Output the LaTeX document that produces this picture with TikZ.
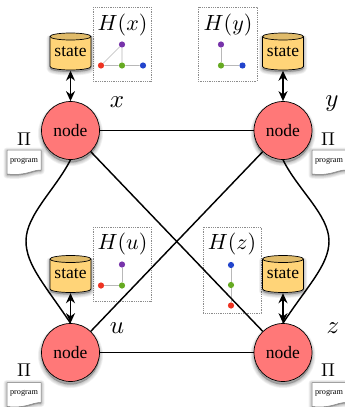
\documentclass[tikz,border=0pt]{standalone}
\usepackage{fontspec}
\setmainfont{Liberation Serif}
\usetikzlibrary{arrows.meta}
\definecolor{nodered}{HTML}{FF7878}
\definecolor{statey}{HTML}{FFD478}
\definecolor{dred}{HTML}{EE3322}
\definecolor{dgreen}{HTML}{66AA22}
\definecolor{dblue}{HTML}{2244CC}
\definecolor{dpurple}{HTML}{7733AA}
\tikzset{
  pnode/.style={circle,draw=black,line width=0.7pt,fill=nodered,minimum size=58pt,inner sep=0pt,font=\fontsize{17.5}{17.5}\selectfont},
  link/.style={line width=1.45pt,black},
  dbl/.style={line width=1.6pt,black,{Stealth[length=10pt,width=9pt]}-{Stealth[length=10pt,width=9pt]}},
  hbox/.style={draw=black!45,densely dotted,line width=0.8pt},
  glink/.style={line width=0.7pt,black!28},
  dot/.style={circle,inner sep=0pt,minimum size=6.2pt},
  mathlab/.style={inner sep=0pt,scale=2.2},
  varlab/.style={inner sep=0pt,scale=2.5},
  pilab/.style={inner sep=0pt,scale=1.85},
  statelab/.style={minimum width=41pt,minimum height=38pt,inner sep=0pt,font=\fontsize{17.5}{17.5}\selectfont},
  proglab/.style={inner sep=0pt,font=\fontsize{8.2}{8.2}\selectfont}
}
\newcommand{\softshadow}[1]{%
  \foreach \w in {7,5.5,4,2.5,1}{\path[fill=black,fill opacity=0.05,draw=black,draw opacity=0.05,line width=\w pt,line join=round] #1;}}
\newcommand{\statecyl}[3]{% name, centre x, top y
  \begin{scope}[shift={(#2,#3)}]
    \begin{scope}[yshift=-2pt]\softshadow{(-20.5,3.5) -- (-20.5,33.5) arc[start angle=180,end angle=0,x radius=20.5,y radius=3.5] -- (20.5,3.5) -- cycle}\end{scope}
    \path[fill=statey,draw=black,line width=0.7pt] (-20.5,3.5) -- (-20.5,33.5) arc[start angle=180,end angle=0,x radius=20.5,y radius=3.5] -- (20.5,3.5);
    \path[fill=statey!88!black,draw=black,line width=0.7pt] (0,3.5) ellipse[x radius=20.5,y radius=3.5];
    \node[statelab] (#1) at (0,18.5) {\raisebox{-1pt}{state}};
  \end{scope}}
\newcommand{\progdoc}[3]{% name, left x, top y
  \begin{scope}[shift={(#2,#3)}]
    \begin{scope}[yshift=-1pt]\softshadow{(0,0) -- (34,0) -- (34,20) .. controls (24,20) and (20,26) .. (0,24) -- cycle}\end{scope}
    \path[fill=white,draw=black!50,line width=0.5pt] (0,0) -- (34,0) -- (34,20) .. controls (24,20) and (20,26) .. (0,24) -- cycle;
    \node[proglab] (#1) at (17,11) {program};
  \end{scope}}
\begin{document}
\begin{tikzpicture}[x=1pt,y=-1pt]
\useasboundingbox (0,0) rectangle (345,407);
\clip (0,0) rectangle (345,407);
\fill[white] (0,0) rectangle (345,407);
\foreach \cx/\cy in {70.5/130.5,283/130.5,70.5/352.5,283/352.5}{
  \begin{scope}[shift={(\cx,\cy+3)}]\softshadow{(0,0) circle[radius=29]}\end{scope}}
\node[pnode] (nx) at (70.5,130.5) {node};
\node[pnode] (ny) at (283,130.5) {node};
\node[pnode] (nu) at (70.5,352.5) {node};
\node[pnode] (nz) at (283,352.5) {node};
% H boxes
\draw[hbox] (93,7) rectangle (151,81);
\draw[hbox] (198,7) rectangle (257,81);
\draw[hbox] (93,227) rectangle (151,301);
\draw[hbox] (203,227) rectangle (261,313);
\node[mathlab] (hx) at (122.5,25) {$H(x)$};
\node[mathlab] (hy) at (228,25) {$H(y)$};
\node[mathlab] (hu) at (122.5,243.5) {$H(u)$};
\node[mathlab] (hz) at (232,243.5) {$H(z)$};
% H(x)
\node[dot,fill=dpurple] (xp) at (122,44.5) {};
\node[dot,fill=dred] (xr) at (101,65.5) {};
\node[dot,fill=dgreen] (xg) at (122,65.5) {};
\node[dot,fill=dblue] (xb) at (143,65.5) {};
\draw[glink] (xp)--(xr) (xp)--(xg) (xr)--(xg) (xg)--(xb);
% H(y)
\node[dot,fill=dpurple] (yp) at (221,44.5) {};
\node[dot,fill=dgreen] (yg) at (221,65.5) {};
\node[dot,fill=dblue] (yb) at (242.5,65.5) {};
\draw[glink] (yp)--(yg) (yg)--(yb);
% H(u)
\node[dot,fill=dpurple] (up) at (122,264.5) {};
\node[dot,fill=dred] (ur) at (101,285.5) {};
\node[dot,fill=dgreen] (ug) at (122,285.5) {};
\draw[glink] (up)--(ug) (ur)--(ug);
% H(z)
\node[dot,fill=dblue] (zb) at (231,265) {};
\node[dot,fill=dgreen] (zg) at (231,285) {};
\node[dot,fill=dred] (zr) at (231,305.5) {};
\draw[glink] (zb)--(zg) (zg)--(zr);
% links
\coordinate (lb) at (26,241);
\coordinate (rb) at (329,241);
\draw[link] (nx)--(ny);
\draw[link] (nu)--(nz);
\draw[link] (nx)--(nz);
\draw[link] (ny)--(nu);
\draw[link] (nx.south) .. controls (55,190) and (26,215) .. (lb) .. controls (26,265) and (45,285) .. (nu.north);
\draw[link] (ny.south) .. controls (298,190) and (329,215) .. (rb) .. controls (329,265) and (308,285) .. (nz.north);
% states
\statecyl{sx}{70.5}{33}
\statecyl{sy}{283}{33}
\statecyl{su}{70.5}{255.5}
\statecyl{sz}{283}{255.5}
\draw[dbl] (sx.south)--(nx.north);
\draw[dbl] (sy.south)--(ny.north);
\draw[dbl] (su.south)--(nu.north);
\draw[dbl] (sz.south)--(nz.north);
% labels
\node[varlab] (lx) at (117,102) {$x$};
\node[varlab] (ly) at (332,104) {$y$};
\node[varlab] (lu) at (117,328) {$u$};
\node[varlab] (lz) at (333,328) {$z$};
\node[pilab] (px) at (24,139) {$\Pi$};
\node[pilab] (py) at (328,139) {$\Pi$};
\node[pilab] (pu) at (24,370) {$\Pi$};
\node[pilab] (pz) at (328,370) {$\Pi$};
\progdoc{dx}{7}{150}
\progdoc{dy}{312}{150}
\progdoc{du}{7}{382.5}
\progdoc{dz}{312}{382.5}
\end{tikzpicture}
\end{document}
